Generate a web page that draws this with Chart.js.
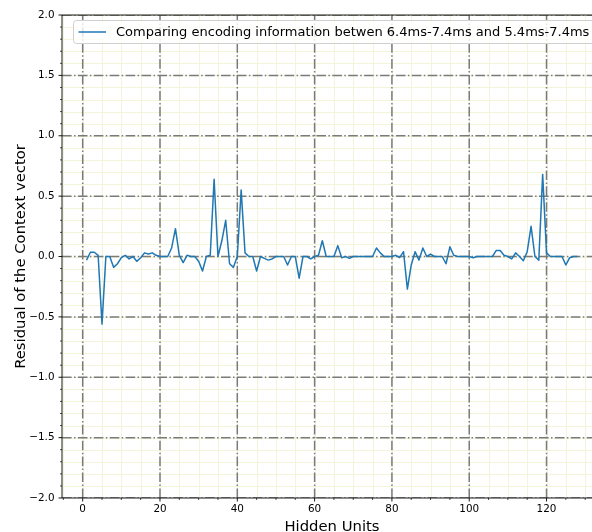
<!DOCTYPE html>
<html>
<head>
<meta charset="utf-8">
<script src="https://cdn.jsdelivr.net/npm/chart.js@4.4.1/dist/chart.umd.min.js"></script>
<style>
  html, body { margin: 0; padding: 0; overflow: hidden; background: #ffffff; }
  #wrap { width: 640px; height: 532px; }
</style>
</head>
<body>
<div id="wrap"><canvas id="c" width="640" height="532"></canvas></div>
<script>
// Hidden unit index (x) and the residual of the context vector (y)
const hiddenUnits = [
  1, 2, 3, 4, 5, 6, 7, 8, 9, 10, 11, 12, 13, 14, 15, 16,
  17, 18, 19, 20, 21, 22, 23, 24, 25, 26, 27, 28, 29, 30, 31, 32,
  33, 34, 35, 36, 37, 38, 39, 40, 41, 42, 43, 44, 45, 46, 47, 48,
  49, 50, 51, 52, 53, 54, 55, 56, 57, 58, 59, 60, 61, 62, 63, 64,
  65, 66, 67, 68, 69, 70, 71, 72, 73, 74, 75, 76, 77, 78, 79, 80,
  81, 82, 83, 84, 85, 86, 87, 88, 89, 90, 91, 92, 93, 94, 95, 96,
  97, 98, 99, 100, 101, 102, 103, 104, 105, 106, 107, 108, 109, 110, 111, 112,
  113, 114, 115, 116, 117, 118, 119, 120, 121, 122, 123, 124, 125, 126, 127, 128
];
const residual = [
  -0.03, 0.035, 0.035, 0.01, -0.56, 0.0, 0.0, -0.09, -0.06, -0.01, 0.01, -0.02, 0.0, -0.04, -0.01, 0.03,
  0.02, 0.03, 0.01, 0.0, 0.0, 0.0, 0.07, 0.23, 0.01, -0.05, 0.01, 0.0, 0.0, -0.04, -0.12, 0.0,
  0.01, 0.64, 0.0, 0.13, 0.30, -0.06, -0.09, 0.0, 0.55, 0.03, 0.0, 0.0, -0.12, 0.0, -0.015, -0.03,
  -0.02, 0.0, 0.0, 0.0, -0.07, 0.0, 0.0, -0.18, 0.0, 0.0, -0.02, 0.0, 0.01, 0.13, 0.0, 0.0,
  0.0, 0.09, -0.01, 0.0, -0.015, 0.0, 0.0, 0.0, 0.0, 0.0, 0.0, 0.07, 0.03, 0.0, 0.0, 0.0,
  0.01, -0.01, 0.04, -0.27, -0.07, 0.04, -0.03, 0.07, 0.0, 0.02, 0.0, 0.0, 0.0, -0.06, 0.08, 0.01,
  0.0, 0.0, 0.0, 0.0, -0.01, 0.0, 0.0, 0.0, 0.0, 0.0, 0.05, 0.05, 0.01, 0.0, -0.02, 0.03,
  0.0, -0.035, 0.04, 0.25, 0.0, -0.03, 0.68, 0.03, 0.0, 0.0, 0.0, 0.0, -0.07, -0.01, 0.0, 0.0
];

// Axis ticks
const xTickValues = [0, 20, 40, 60, 80, 100, 120];
const yTickValues = [-2.0, -1.5, -1.0, -0.5, 0.0, 0.5, 1.0, 1.5, 2.0];
const xMinorStep = 5;
const yMinorStep = 0.1;

// Texts
const seriesLabel = 'Comparing encoding information betwen 6.4ms-7.4ms and 5.4ms-7.4ms';
const xTitle = 'Hidden Units';
const yTitle = 'Residual of the Context vector';

const FONT = '"DejaVu Sans", "Liberation Sans", sans-serif';
const LINE_COLOR = '#1f77b4';

function fmtY(v) {
  const s = Math.abs(v).toFixed(1);
  return (v < -1e-9 ? '\u2212' : '') + s;
}

function hLine(ctx, x0, x1, y) { ctx.beginPath(); ctx.moveTo(x0, y); ctx.lineTo(x1, y); ctx.stroke(); }
function vLine(ctx, x, y0, y1) { ctx.beginPath(); ctx.moveTo(x, y0); ctx.lineTo(x, y1); ctx.stroke(); }

const gridPlugin = {
  id: 'gridPlugin',
  beforeDatasetsDraw(chart) {
    const { ctx, chartArea: a, scales: { x, y } } = chart;
    ctx.save();
    ctx.beginPath();
    ctx.rect(a.left, a.top, a.right - a.left, a.bottom - a.top);
    ctx.clip();

    // minor grid
    ctx.strokeStyle = '#f4f4da';
    ctx.lineWidth = 1;
    ctx.setLineDash([]);
    for (let k = Math.ceil(x.min / xMinorStep); k * xMinorStep <= x.max; k++) {
      vLine(ctx, Math.round(x.getPixelForValue(k * xMinorStep)) + 0.5, a.top, a.bottom);
    }
    for (let k = Math.ceil(y.min / yMinorStep); k <= Math.floor(y.max / yMinorStep); k++) {
      hLine(ctx, a.left, a.right, Math.round(y.getPixelForValue(k * yMinorStep)) + 0.5);
    }

    // major grid, dash-dot
    ctx.strokeStyle = '#7a7a7a';
    ctx.lineWidth = 1.5;
    ctx.setLineDash([9.6, 2.4, 1.5, 2.4]);
    xTickValues.forEach(v => {
      const px = x.getPixelForValue(v);
      ctx.beginPath(); ctx.moveTo(px, a.bottom); ctx.lineTo(px, a.top); ctx.stroke();
    });
    yTickValues.forEach(v => {
      const py = y.getPixelForValue(v);
      hLine(ctx, a.left, a.right, py);
    });
    ctx.restore();
  },
  afterDatasetsDraw(chart) {
    const { ctx, chartArea: a, scales: { x, y } } = chart;
    ctx.save();
    ctx.setLineDash([]);

    // spines (left, top, bottom; the right one lies past the page edge)
    ctx.strokeStyle = '#000000';
    ctx.lineWidth = 0.9;
    vLine(ctx, a.left, a.top, a.bottom);
    hLine(ctx, a.left, a.right, a.top);
    hLine(ctx, a.left, a.right, a.bottom);

    // major ticks
    xTickValues.forEach(v => vLine(ctx, x.getPixelForValue(v), a.bottom, a.bottom + 3.5));
    yTickValues.forEach(v => hLine(ctx, a.left - 3.5, a.left, y.getPixelForValue(v)));
    // minor ticks
    ctx.lineWidth = 0.7;
    for (let k = Math.ceil(x.min / xMinorStep); k * xMinorStep <= x.max; k++) {
      if (k % 4 === 0) continue;
      vLine(ctx, x.getPixelForValue(k * xMinorStep), a.bottom, a.bottom + 2);
    }
    for (let k = Math.ceil(y.min / yMinorStep); k <= Math.floor(y.max / yMinorStep); k++) {
      if (k % 5 === 0) continue;
      hLine(ctx, a.left - 2, a.left, y.getPixelForValue(k * yMinorStep));
    }

    // legend
    const lx = 73.5, ly = 20.5, lw = 540, lh = 23;
    ctx.fillStyle = 'rgba(255,255,255,0.8)';
    ctx.strokeStyle = '#d0d0d0';
    ctx.lineWidth = 1;
    ctx.beginPath();
    ctx.roundRect(lx, ly, lw, lh, 3);
    ctx.fill();
    ctx.stroke();
    ctx.strokeStyle = LINE_COLOR;
    ctx.lineWidth = 1.5;
    hLine(ctx, 78.5, 106, 32);
    ctx.fillStyle = '#000000';
    ctx.font = '13px ' + FONT;
    ctx.textAlign = 'left';
    ctx.textBaseline = 'middle';
    ctx.fillText(seriesLabel, 116, 32.5);

    // axis titles
    ctx.font = '14.8px ' + FONT;
    ctx.textAlign = 'center';
    ctx.textBaseline = 'alphabetic';
    ctx.fillText(xTitle, (a.left + a.right) / 2, 530.5);
    ctx.translate(24.5, (a.top + a.bottom) / 2);
    ctx.rotate(-Math.PI / 2);
    ctx.fillText(yTitle, 0, 0);
    ctx.restore();
  }
};

new Chart(document.getElementById('c'), {
  type: 'line',
  data: {
    datasets: [{
      label: seriesLabel,
      data: hiddenUnits.map((u, i) => ({ x: u, y: residual[i] })),
      borderColor: LINE_COLOR,
      borderWidth: 1.5,
      pointRadius: 0,
      tension: 0,
      fill: false,
      borderJoinStyle: 'round'
    }]
  },
  options: {
    responsive: false,
    animation: false,
    devicePixelRatio: 1,
    layout: { autoPadding: false, padding: { left: 0, top: 15, right: 38, bottom: 0 } },
    plugins: { legend: { display: false }, tooltip: { enabled: false } },
    scales: {
      x: {
        type: 'linear',
        min: -5.35,
        max: 134.35,
        grid: { display: false, drawTicks: false },
        border: { display: false },
        ticks: {
          color: '#000000',
          padding: 5,
          maxRotation: 0,
          font: { family: FONT, size: 10.4 },
          callback: v => String(v)
        },
        afterBuildTicks: s => { s.ticks = xTickValues.map(v => ({ value: v })); },
        afterFit: s => { s.height = 34; s.paddingLeft = 0; s.paddingRight = 0; }
      },
      y: {
        type: 'linear',
        min: -2,
        max: 2,
        grid: { display: false, drawTicks: false },
        border: { display: false },
        ticks: {
          color: '#000000',
          padding: 7.5,
          font: { family: FONT, size: 10.4 },
          callback: v => fmtY(v)
        },
        afterBuildTicks: s => { s.ticks = yTickValues.map(v => ({ value: v })); },
        afterFit: s => { s.width = 62; s.paddingTop = 0; s.paddingBottom = 0; }
      }
    }
  },
  plugins: [gridPlugin]
});
</script>
</body>
</html>
